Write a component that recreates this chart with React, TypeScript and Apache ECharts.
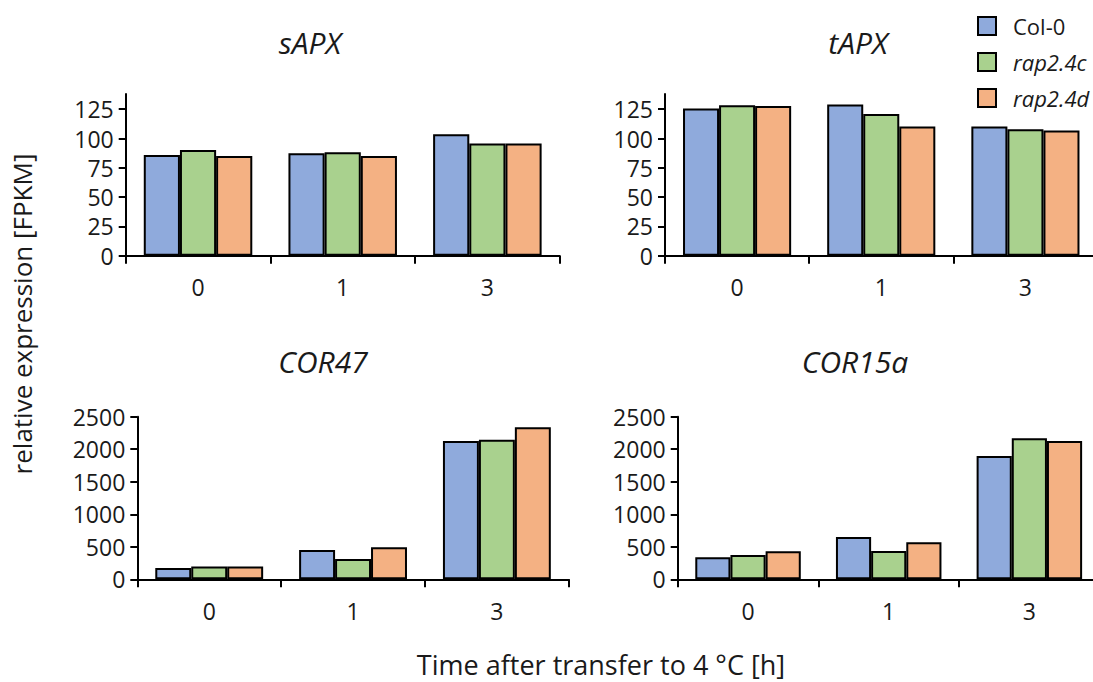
import React, { useEffect, useRef } from "react";
import * as echarts from "echarts";

const categories = ["0", "1", "3"];
const seriesNames = ["Col-0", "rap2.4c", "rap2.4d"];
const colors = ["#8FAADC", "#A9D18E", "#F4B183"];

const sAPX_col0 = [86, 87.4, 103.6];
const sAPX_c = [90.3, 88.3, 95.7];
const sAPX_d = [85.1, 85.1, 95.7];

const tAPX_col0 = [125.6, 129, 110.2];
const tAPX_c = [128.4, 121, 107.9];
const tAPX_d = [127.8, 110.2, 106.8];

const COR47_col0 = [174, 451, 2128];
const COR47_c = [195, 313, 2144];
const COR47_d = [195, 492, 2338];

const COR15a_col0 = [338, 651, 1897];
const COR15a_c = [374, 436, 2169];
const COR15a_d = [431, 569, 2128];

const apxTicks = [0, 25, 50, 75, 100, 125];
const corTicks = [0, 500, 1000, 1500, 2000, 2500];

const panelTitles = ["sAPX", "tAPX", "COR47", "COR15a"];

const FONT = "'Open Sans', 'Segoe UI', sans-serif";
const TXT = "#1a1a1a";

export default function App() {
  const ref = useRef<HTMLDivElement>(null);
  useEffect(() => {
    if (!ref.current) return;
    const chart = echarts.init(ref.current, undefined, { renderer: "svg" });

    const grids = [
      { left: 125.7, top: 94, width: 434, height: 161.7 },
      { left: 665, top: 94, width: 432.5, height: 161.7 },
      { left: 137.3, top: 416.7, width: 431.5, height: 162.6 },
      { left: 677.7, top: 416.7, width: 422, height: 162.6 },
    ].map((g) => ({ ...g, containLabel: false, outerBoundsMode: "none" }));

    const panelData = [
      [sAPX_col0, sAPX_c, sAPX_d],
      [tAPX_col0, tAPX_c, tAPX_d],
      [COR47_col0, COR47_c, COR47_d],
      [COR15a_col0, COR15a_c, COR15a_d],
    ];

    const xAxis = grids.map((_, i) => ({
      type: "category",
      gridIndex: i,
      data: categories,
      boundaryGap: true,
      axisLine: { show: true, lineStyle: { color: "#000", width: 2 } },
      axisTick: { show: true, length: 8, inside: false, lineStyle: { color: "#000", width: 2 } },
      axisLabel: { color: TXT, fontSize: 23, fontFamily: FONT, margin: 20 },
      splitLine: { show: false },
    }));

    const yAxis = grids.map((_, i) => {
      const isApx = i < 2;
      const ticks = isApx ? apxTicks : corTicks;
      return {
        type: "value",
        gridIndex: i,
        min: 0,
        max: isApx ? 138 : 2500,
        interval: isApx ? 25 : 500,
        axisLine: { show: true, lineStyle: { color: "#000", width: 2 } },
        axisTick: {
          show: true,
          length: 7,
          inside: false,
          customValues: ticks,
          lineStyle: { color: "#000", width: 2 },
        },
        axisLabel: {
          color: TXT,
          fontSize: 23,
          fontFamily: FONT,
          margin: 12,
          customValues: ticks,
          formatter: (v: number) => String(v),
        },
        splitLine: { show: false },
      };
    });

    const series: any[] = [];
    panelData.forEach((arrs, gi) => {
      arrs.forEach((vals, si) => {
        series.push({
          type: "bar",
          name: seriesNames[si],
          xAxisIndex: gi,
          yAxisIndex: gi,
          data: vals,
          barGap: "0%",
          barCategoryGap: "25%",
          itemStyle: { color: colors[si], borderColor: "#000", borderWidth: 2 },
        });
      });
    });

    const titlePos = [
      [310, 42],
      [858, 42],
      [323, 361],
      [855, 361],
    ];

    const graphics: any[] = panelTitles.map((t, i) => ({
      type: "text",
      x: titlePos[i][0],
      y: titlePos[i][1],
      style: {
        text: t,
        fontSize: 30,
        fontStyle: "italic",
        fontFamily: FONT,
        fill: TXT,
        align: "center",
        verticalAlign: "middle",
        textAlign: "center",
        textVerticalAlign: "middle",
      },
    }));
    graphics.push({
      type: "text",
      x: 22,
      y: 314,
      rotation: Math.PI / 2,
      style: {
        text: "relative expression [FPKM]",
        fontSize: 26,
        fontFamily: FONT,
        fill: TXT,
        align: "center",
        verticalAlign: "middle",
        textAlign: "center",
        textVerticalAlign: "middle",
      },
    });
    graphics.push({
      type: "text",
      x: 601,
      y: 664,
      style: {
        text: "Time after transfer to 4 °C [h]",
        fontSize: 27,
        fontFamily: FONT,
        fill: TXT,
        align: "center",
        verticalAlign: "middle",
        textAlign: "center",
        textVerticalAlign: "middle",
      },
    });

    chart.setOption({
      animation: false,
      backgroundColor: "#fff",
      grid: grids,
      xAxis,
      yAxis,
      series,
      legend: {
        data: seriesNames,
        orient: "vertical",
        left: 972,
        top: 10,
        itemWidth: 18,
        itemHeight: 18,
        itemGap: 14,
        icon: "rect",
        itemStyle: { borderColor: "#000", borderWidth: 2 },
        textStyle: {
          color: TXT,
          fontSize: 22,
          fontFamily: FONT,
          lineHeight: 22,
          padding: [0, 0, 0, 12],
          rich: {
            i: { fontStyle: "italic", fontSize: 22, fontFamily: FONT, color: TXT, lineHeight: 22 },
          },
        },
        formatter: (name: string) => (name === "Col-0" ? name : `{i|${name}}`),
      },
      graphic: graphics,
    });

    return () => chart.dispose();
  }, []);

  return (
    <div
      ref={ref}
      style={{ position: "absolute", left: 0, top: 0, width: 1093, height: 682 }}
    />
  );
}
